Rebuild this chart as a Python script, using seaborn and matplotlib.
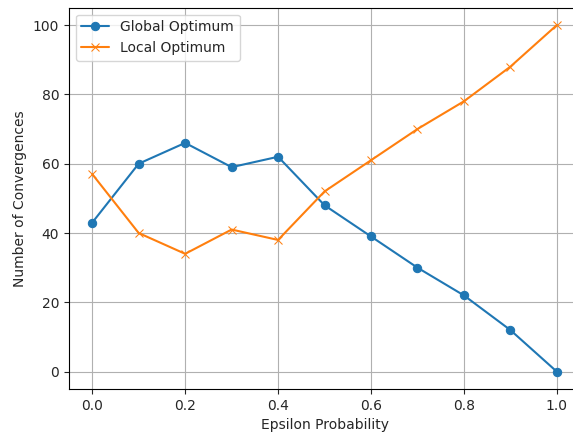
import matplotlib
matplotlib.use("Agg")
import matplotlib.pyplot as plt
import seaborn as sns
import pandas as pd

epsilon = [0.0, 0.1, 0.2, 0.3, 0.4, 0.5, 0.6, 0.7, 0.8, 0.9, 1.0]
global_opt = [43, 60, 66, 59, 62, 48, 39, 30, 22, 12, 0]
local_opt = [57, 40, 34, 41, 38, 52, 61, 70, 78, 88, 100]

sns.set_style("ticks")
plt.rcParams["font.family"] = ["DejaVu Sans"]

df = pd.DataFrame({"epsilon": epsilon, "global": global_opt, "local": local_opt})

fig = plt.figure(figsize=(5.73, 4.33), dpi=100)
# the original image is cropped, so the axes run past the right edge
ax = fig.add_axes([0.1204, 0.1016, 0.892, 0.8806])

sns.lineplot(data=df, x="epsilon", y="global", marker="o", markeredgecolor="#1f77b4",
             color="#1f77b4", label="Global Optimum", ax=ax)
sns.lineplot(data=df, x="epsilon", y="local", marker="x", markeredgecolor="#ff7f0e",
             color="#ff7f0e", label="Local Optimum", ax=ax)

ax.grid(True, color="#b0b0b0", linewidth=0.8)
ax.set_xlabel("Epsilon Probability")
ax.set_ylabel("Number of Convergences")
ax.set_xticks([0.0, 0.2, 0.4, 0.6, 0.8, 1.0])
ax.legend(loc="upper left")
for s in ax.spines.values():
    s.set_visible(True)
    s.set_color("black")

fig.savefig("out.png", dpi=100)
